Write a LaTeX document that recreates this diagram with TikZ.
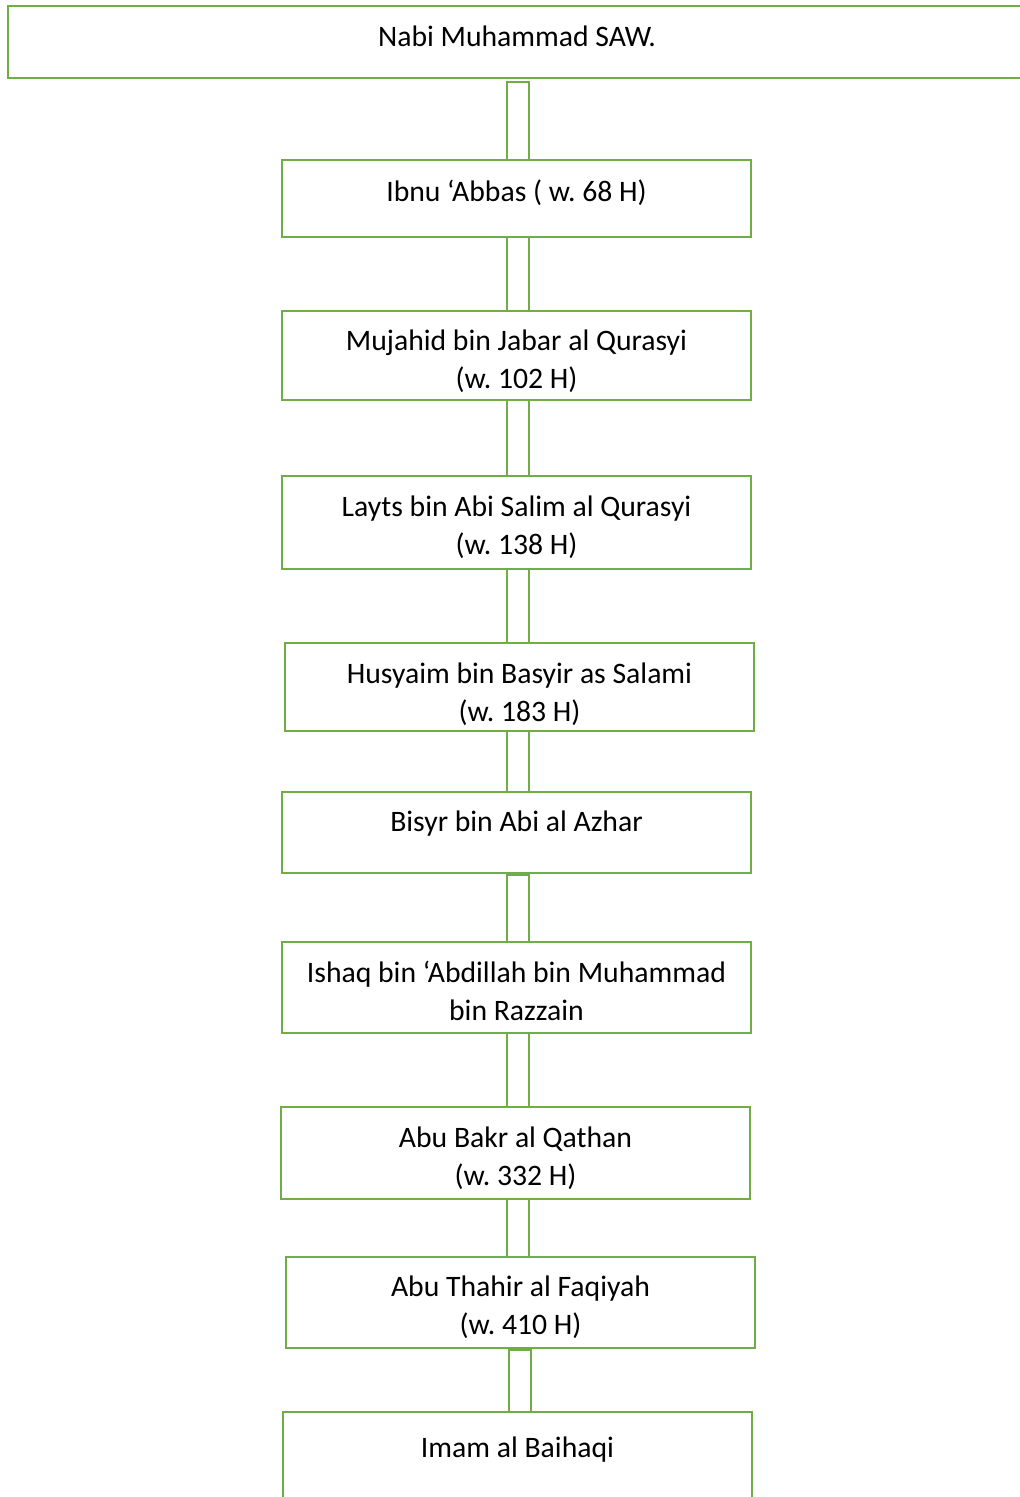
\documentclass[tikz,border=0pt]{standalone}
\usepackage{fontspec}
\setmainfont{Carlito}
\frenchspacing
\definecolor{boxgreen}{HTML}{70AD47}
\newcommand{\bxtext}[4]{\parbox[c][#2pt][t]{#1pt}{\centering\fontsize{29.7}{38}\selectfont\frenchspacing\rule{0pt}{#3pt}#4}}
\tikzset{
  chainbox/.style={draw=boxgreen, line width=2.7pt, inner sep=0pt, outer sep=0pt, fill=white},
  link/.style={draw=boxgreen, line width=2.7pt}
}
\begin{document}
\begin{tikzpicture}[x=1pt,y=-1pt]
\useasboundingbox (0,0) rectangle (1020,1497);
\clip (0,0) rectangle (1020,1497);
\coordinate (cl) at (507,0);
\coordinate (cr) at (529,0);
\coordinate (dl) at (509,0);
\coordinate (dr) at (531,0);
\node[chainbox] (b1) at (517,42) {\bxtext{1018}{72}{40}{Nabi Muhammad SAW.}};
\node[chainbox] (b2) at (516.5,198.5) {\bxtext{469}{77}{41}{Ibnu ‘Abbas ( w. 68 H)}};
\node[chainbox] (b3) at (516.5,355.5) {\bxtext{469}{89}{39}{Mujahid bin Jabar al Qurasyi\\(w. 102 H)}};
\node[chainbox] (b4) at (516.5,522.5) {\bxtext{469}{93}{40}{Layts bin Abi Salim al Qurasyi\\(w. 138 H)}};
\node[chainbox] (b5) at (519.5,687) {\bxtext{469}{88}{40}{Husyaim bin Basyir as Salami\\(w. 183 H)}};
\node[chainbox] (b6) at (516.5,832.5) {\bxtext{469}{81}{39}{Bisyr bin Abi al Azhar}};
\node[chainbox] (b7) at (516.5,987.5) {\bxtext{469}{91}{40}{Ishaq bin ‘Abdillah bin Muhammad\\bin Razzain}};
\node[chainbox] (b8) at (515.5,1153) {\bxtext{469}{92}{40}{Abu Bakr al Qathan\\(w. 332 H)}};
\node[chainbox] (b9) at (520.5,1302.5) {\bxtext{469}{91}{39}{Abu Thahir al Faqiyah\\(w. 410 H)}};
\node[chainbox] (b10) at (517.5,1471) {\bxtext{469}{118}{45}{Imam al Baihaqi}};
\draw[link] ([yshift=-4]b1.south -| cl) rectangle (b2.north -| cr);
\draw[link] (b2.south -| cl) rectangle (b3.north -| cr);
\draw[link] (b3.south -| cl) rectangle (b4.north -| cr);
\draw[link] (b4.south -| cl) rectangle (b5.north -| cr);
\draw[link] (b5.south -| cl) rectangle (b6.north -| cr);
\draw[link] ([yshift=-2]b6.south -| cl) rectangle (b7.north -| cr);
\draw[link] (b7.south -| cl) rectangle (b8.north -| cr);
\draw[link] (b8.south -| cl) rectangle (b9.north -| cr);
\draw[link] ([yshift=-2]b9.south -| dl) rectangle (b10.north -| dr);
\end{tikzpicture}
\end{document}
